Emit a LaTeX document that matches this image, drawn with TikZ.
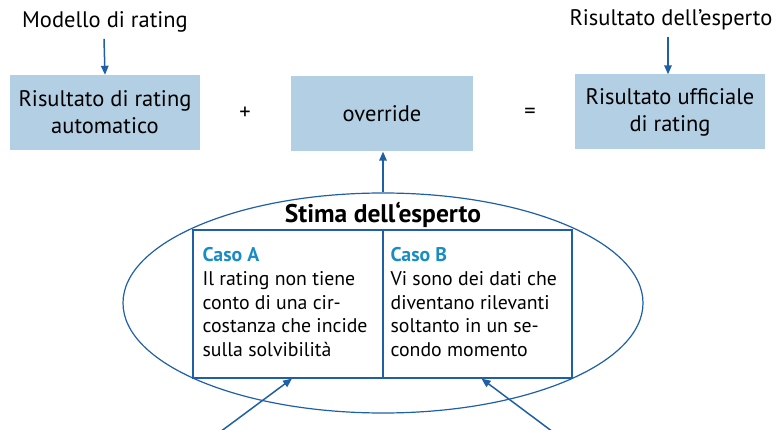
\documentclass[tikz,border=0pt]{standalone}
\usepackage{fontspec}
\setmainfont{PT Sans}
\usepackage{tikz}
\usetikzlibrary{calc,shapes.geometric,arrows.meta}

\definecolor{boxfill}{RGB}{179,207,227}
\definecolor{lineblue}{RGB}{30,95,165}
\definecolor{casoblue}{RGB}{25,140,200}

\begin{document}
\begin{tikzpicture}[
x=1pt, y=-1pt,
B1/.style={rectangle, fill=boxfill, minimum width=190pt, minimum height=75pt,
align=center, font=\fontsize{22.5}{27}\selectfont},
L1/.style={font=\fontsize{22.5}{26}\selectfont},
C1/.style={rectangle, draw=lineblue, line width=1.2pt, minimum width=190pt, minimum height=148pt},
T1/.style={anchor=north west, inner sep=0pt, align=left, font=\fontsize{19.8}{23.7}\selectfont},
A1/.style={draw=lineblue, line width=1.5pt, -{Triangle[length=9pt, width=7.5pt]}},
]
	\useasboundingbox (0,0) rectangle (776,430);

	% top row
	\node[B1] (Auto) at (105,112.5) {Risultato di rating\\automatico};
	\node[
	B1,
	minimum width=182pt,
	] (Override) at (382,114) {override};
	\node[B1] (Ufficiale) at (670,112) {Risultato ufficiale\\di rating};
	\node[L1] (Plus) at (245,113) {+};
	\node[L1] (Equals) at (530,113) {=};

	\node[L1] (Modello) at (105,22) {Modello di rating};
	\node[L1] (Esperto) at (671,20) {Risultato dell’esperto};

	% stima dell'esperto
	\node[
	ellipse,
	draw=lineblue,
	line width=1.2pt,
	minimum width=520pt,
	minimum height=220pt,
	] (Stima) at (383,303) {};
	\node[
	font=\fontsize{25.5}{28}\selectfont\bfseries,
	] (Titolo) at (383,215) {Stima dell‘esperto};
	\node[C1] (CasoA) at (288,304) {};
	\node[C1, minimum width=189pt] (CasoB) at (477.5,304) {};

	\node[T1] (TestoA) at ($ (CasoA.north west) + (10,18) $)
	{\textcolor{casoblue}{\bfseries Caso A}\\
	Il rating non tiene\\
	conto di una cir-\\
	costanza che incide\\
	sulla solvibilità};
	\node[T1] (TestoB) at ($ (CasoB.north west) + (8,18) $)
	{\textcolor{casoblue}{\bfseries Caso B}\\
	Vi sono dei dati che\\
	diventano rilevanti\\
	soltanto in un se-\\
	condo momento};

	% arrows
	\coordinate (InA) at (220,432);
	\coordinate (InB) at (553,432);
	\draw[A1] (Modello.south) ++(-1,3) -- (Auto.north -| Modello.south);
	\draw[A1] (Esperto.south) ++(-3,3) -- ($ (Ufficiale.north) + (-2,0) $);
	\draw[A1] (Stima.north) -- (Stima.north |- Override.south);
	\draw[A1] (InA) -- ($ (CasoA.south) + (4,0) $);
	\draw[A1] (InB) -- ($ (CasoB.south) + (4,0) $);
\end{tikzpicture}
\end{document}
